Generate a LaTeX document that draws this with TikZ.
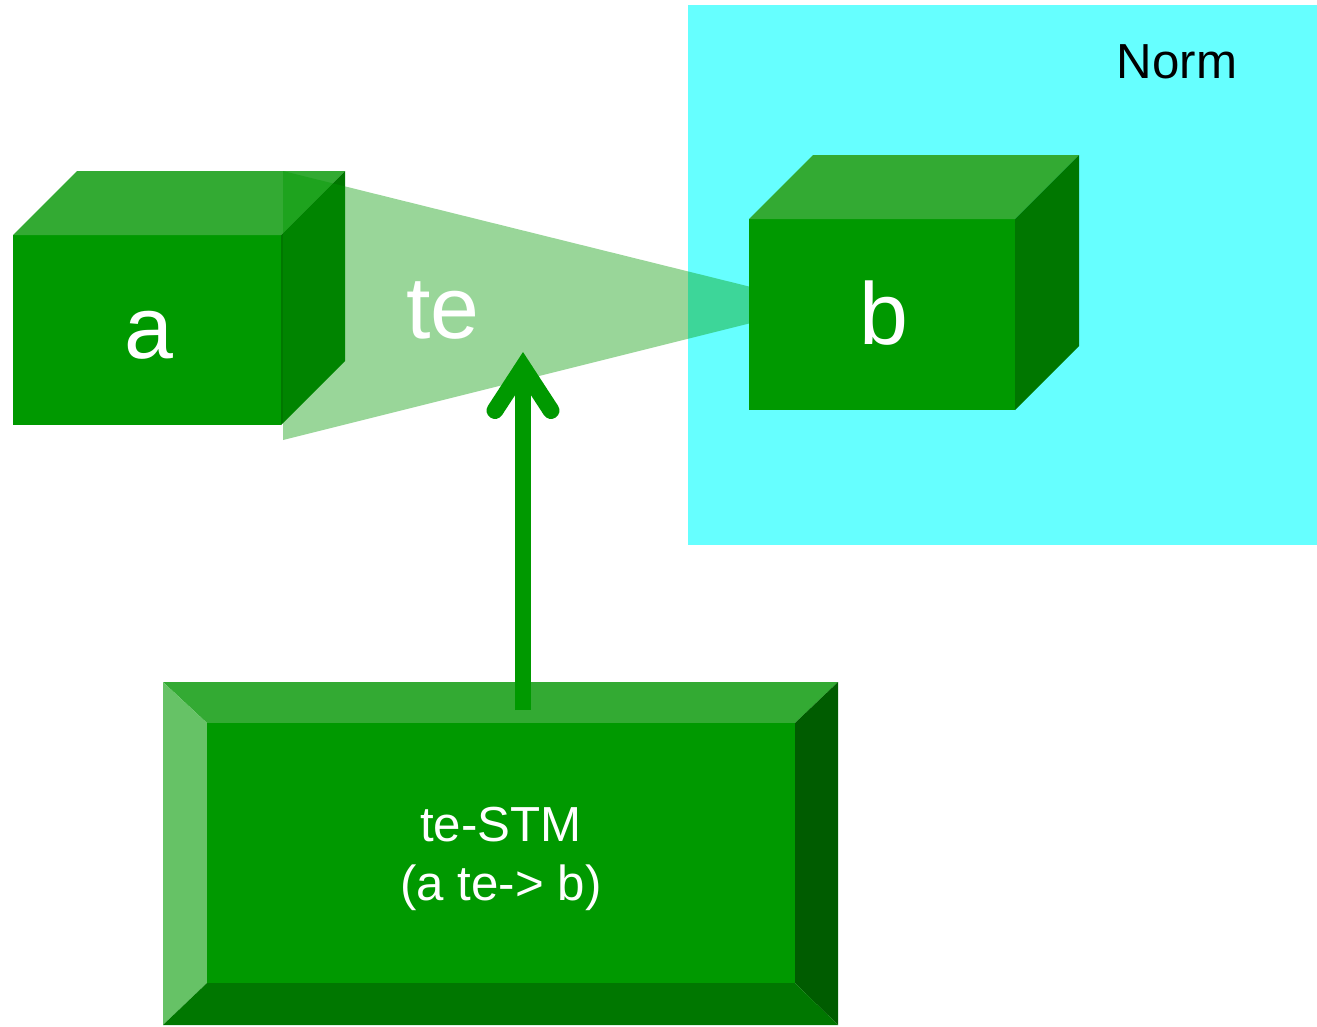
\documentclass[tikz,border=0pt]{standalone}
\usepackage{fontspec}
\setmainfont{Liberation Sans}
\usetikzlibrary{positioning,arrows.meta}

\definecolor{normcyan}{HTML}{66FFFF}
\definecolor{cubefront}{HTML}{009900}
\definecolor{cubetop}{HTML}{33AA33}
\definecolor{cubeside}{HTML}{007700}
\definecolor{bevelleft}{HTML}{66C266}
\definecolor{bevelright}{HTML}{005C00}

% front face from (#1,#2) to (#3,#4), depth \d
\newcommand{\drawcube}[4]{%
    \fill[cubefront] (#1,#2) rectangle (#3,#4);
    \fill[cubetop] (#1,#2) -- ++(\d,-\d) -- (#3+\d,#2-\d) -- (#3,#2) -- cycle;
    \fill[cubeside] (#3,#2) -- ++(\d,-\d) -- (#3+\d,#4-\d) -- (#3,#4) -- cycle;
}

\begin{document}
\begin{tikzpicture}[x=0.01cm, y=-0.01cm]

        \def\d{64}

        % Text styles for the labels
        \tikzset{
            big/.style={font=\fontsize{25}{30}\selectfont, text=white,
                inner sep=0pt, anchor=base},
            small/.style={font=\fontsize{14}{16.6}\selectfont,
                inner sep=0pt, align=center}
        }

        \useasboundingbox (0,0) rectangle (1317,1026);

        % The Norm region
        \fill[normcyan] (688,5) rectangle (1317,545);
        \node (Norm) [small, anchor=base] at (1177,78) {Norm};

        % Cube a with the te beam over it, then cube b
        \begin{scope}
            \drawcube{13}{235}{281}{425}
            \fill[cubefront, fill opacity=0.4]
                (283,171) -- (751,287) -- (751,323) -- (283,440) -- cycle;
            \drawcube{749}{219}{1015}{410}
        \end{scope}

        \node (A) [big] at (149,358) {a};
        \node (B) [big] at (884,344) {b};
        \node (TE) [big] at (443,338) {te};

        % Bevelled te-STM box
        \begin{scope}
            \fill[cubetop] (163,682) -- (838,682) -- (795,723) -- (207,723) -- cycle;
            \fill[bevelleft] (163,682) -- (207,723) -- (207,983) -- (163,1025) -- cycle;
            \fill[bevelright] (838,682) -- (838,1025) -- (795,983) -- (795,723) -- cycle;
            \fill[cubeside] (163,1025) -- (207,983) -- (795,983) -- (838,1025) -- cycle;
            \fill[cubefront] (207,723) rectangle (795,983);
        \end{scope}
        \node (STM) [small, text=white] at (501,859) {te-STM\\(a te-> b)};

        \coordinate (foot) at (523,710);
        \coordinate (tip) at (523,352);
        \draw[cubefront, line width=4.8pt,
            -{Straight Barb[length=4.3mm, width=5.6mm, line cap=round, line join=miter]}]
            (foot) -- (tip);

        \end{tikzpicture}
\end{document}
